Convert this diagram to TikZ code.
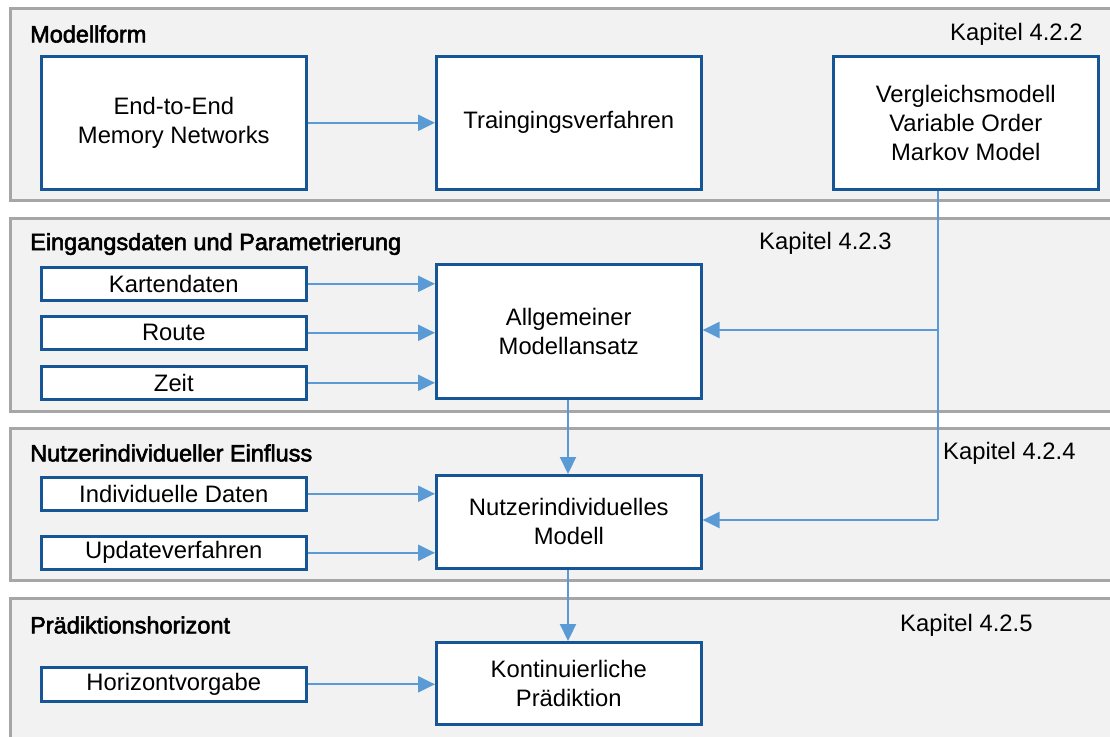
\documentclass[tikz,border=0pt]{standalone}
\usepackage{fontspec}
\setmainfont{Liberation Sans}
\newfontfamily\titlefont[FakeBold=2.5]{Liberation Sans}
\usetikzlibrary{arrows.meta}
\definecolor{panelgray}{RGB}{166,166,166}
\definecolor{panelfill}{RGB}{242,242,242}
\definecolor{boxblue}{RGB}{22,86,150}
\definecolor{arrowblue}{RGB}{91,155,213}
\tikzset{
  panel/.style={draw=panelgray, fill=panelfill, line width=3pt},
  bigbox/.style={draw=boxblue, fill=white, line width=2.6pt, minimum width=265pt, align=center, inner sep=0pt, anchor=north west, font=\fontsize{23.8}{29}\selectfont},
  smallbox/.style={draw=boxblue, fill=white, line width=2.6pt, minimum width=265pt, minimum height=33pt, inner sep=0pt, anchor=north west, font=\fontsize{23.8}{29}\selectfont},
  paneltitle/.style={anchor=west, inner sep=0pt, font=\titlefont\fontsize{23.5}{29}\selectfont},
  chapter/.style={anchor=west, inner sep=0pt, font=\fontsize{23.8}{29}\selectfont},
  conn/.style={draw=arrowblue, line width=2.2pt, -{Triangle[length=17pt,width=16pt]}},
  line/.style={draw=arrowblue, line width=2.2pt}
}
\begin{document}
\begin{tikzpicture}[x=1pt,y=-1pt]
\useasboundingbox (0,0) rectangle (1110,736);
\clip (0,0) rectangle (1110,736);
% panels
\path[panel] (10,8) rectangle (1130,200);
\path[panel] (10,218) rectangle (1130,411);
\path[panel] (10,428) rectangle (1130,580);
\path[panel] (10,598) rectangle (1130,760);
% titles
\node[paneltitle] (t1) at (30,34) {Modellform};
\node[paneltitle] (t2) at (30,244) {Eingangsdaten und Parametrierung};
\node[paneltitle] (t3) at (30,453) {Nutzerindividueller Einfluss};
\node[paneltitle] (t4) at (30,625) {Prädiktionshorizont};
\node[chapter] (k1) at (950,34) {Kapitel 4.2.2};
\node[chapter] (k2) at (759,243) {Kapitel 4.2.3};
\node[chapter] (k3) at (943,453) {Kapitel 4.2.4};
\node[chapter] (k4) at (900,625) {Kapitel 4.2.5};
% section 1
\node[bigbox, minimum height=133pt] (e2e) at (40,55) {End-to-End\\Memory Networks};
\node[bigbox, minimum height=133pt] (train) at (435,55) {Traingingsverfahren};
\node[bigbox, minimum height=133pt] (vgl) at (832,55) {Vergleichsmodell\\Variable Order\\Markov Model};
% section 2
\node[smallbox] (karte) at (40,266) {Kartendaten};
\node[smallbox] (route) at (40,315) {Route};
\node[smallbox] (zeit) at (40,365) {Zeit};
\node[bigbox, minimum height=134pt] (allg) at (435,263) {Allgemeiner\\Modellansatz};
% section 3
\node[smallbox] (indiv) at (40,476) {Individuelle Daten};
\node[smallbox] (update) at (40,535) {Updateverfahren};
\node[bigbox, minimum height=93pt] (nutz) at (435,474) {Nutzerindividuelles\\Modell};
% section 4
\node[smallbox, minimum height=34pt] (horiz) at (40,666) {Horizontvorgabe};
\node[bigbox, minimum height=82pt] (kont) at (435,641) {Kontinuierliche\\Prädiktion};
% connectors
\coordinate (j1) at (938,330);
\coordinate (j2) at (938,520);
\draw[conn] (e2e.east) -- (train.west);
\draw[conn] (karte.east) -- (karte.east -| allg.west);
\draw[conn] (route.east) -- (route.east -| allg.west);
\draw[conn] (zeit.east) -- (zeit.east -| allg.west);
\draw[line] (vgl.south -| j1) -- (j2);
\draw[conn] (j1) -- (j1 -| allg.east);
\draw[conn] (j2) -- (j2 -| nutz.east);
\draw[conn] (allg.south -| 568,0) -- (nutz.north -| 568,0);
\draw[conn] (indiv.east) -- (indiv.east -| nutz.west);
\draw[conn] (update.east) -- (update.east -| nutz.west);
\draw[conn] (nutz.south -| 568,0) -- (kont.north -| 568,0);
\draw[conn] (horiz.east) -- (horiz.east -| kont.west);
\end{tikzpicture}
\end{document}
